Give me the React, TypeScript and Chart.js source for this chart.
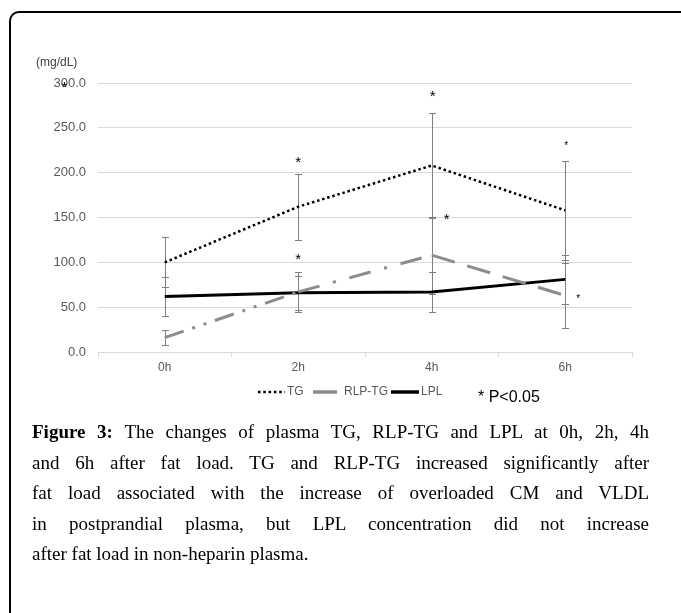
import { useEffect, useRef } from "react";
import { Chart, registerables } from "chart.js";

Chart.register(...registerables);

// ---------- data ----------
const categories = ["0h", "2h", "4h", "6h"];
const tgValues = [100, 162, 208, 158];
const rlpValues = [16, 67, 108, 63];
const lplValues = [62, 66, 67, 81];
const tgErr = [28, 37, 58, 55];
const rlpErr = [8, 22, 43, 36];
const lplErr = [22, 19, 22, 27];
const yTicks = [0, 50, 100, 150, 200, 250, 300];
const legendLabels = ["TG", "RLP-TG", "LPL"];
const unitLabel = "(mg/dL)";
const pNote = "* P<0.05";
// significance marks: category index and value where the asterisk sits
const sigIndex = [1, 1, 2, 2, 3, 3];
const sigValue = [214, 106, 288, 151, 232, 61];

// ---------- styles ----------
const sigStyle = [
  { size: 15, dx: 0 },
  { size: 15, dx: 0 },
  { size: 15, dx: 1 },
  { size: 15, dx: 15 },
  { size: 10, dx: 1 },
  { size: 10, dx: 13 },
];
const AXIS_FONT = "'Liberation Sans', Arial, sans-serif";
const GRAY_TEXT = "#595959";
const GRID = "#d9d9d9";
const RLP_COLOR = "#8c8c8c";
const rlpDashes = [
  [20, 9, 3, 9, 3, 9],
  [22, 14, 3, 14],
  [24, 13],
];
const Y_FONT_SIZE = 13;

const overlay = {
  id: "overlay",
  beforeDatasetsDraw(chart: any) {
    const { ctx, scales } = chart;
    const x = scales.x;
    const y = scales.y;
    ctx.save();
    ctx.strokeStyle = "#7f7f7f";
    ctx.lineWidth = 1;
    const series: [number[], number[]][] = [
      [tgValues, tgErr],
      [rlpValues, rlpErr],
      [lplValues, lplErr],
    ];
    series.forEach(([vals, errs]) => {
      vals.forEach((v, i) => {
        const px = Math.round(x.getPixelForValue(i)) + 0.5;
        const top = Math.round(y.getPixelForValue(v + errs[i])) + 0.5;
        const bot = Math.round(y.getPixelForValue(v - errs[i])) + 0.5;
        ctx.beginPath();
        ctx.moveTo(px, top);
        ctx.lineTo(px, bot);
        ctx.moveTo(px - 3.5, top);
        ctx.lineTo(px + 3.5, top);
        ctx.moveTo(px - 3.5, bot);
        ctx.lineTo(px + 3.5, bot);
        ctx.stroke();
      });
    });
    ctx.restore();
  },
  afterDatasetsDraw(chart: any) {
    const { ctx, scales, chartArea } = chart;
    const x = scales.x;
    const y = scales.y;
    ctx.save();
    // asterisks
    ctx.fillStyle = "#000";
    ctx.textAlign = "center";
    ctx.textBaseline = "middle";
    sigIndex.forEach((ci, k) => {
      const st = sigStyle[k];
      ctx.font = `${st.size}px ${AXIS_FONT}`;
      const px = x.getPixelForValue(ci) + st.dx;
      const py = y.getPixelForValue(sigValue[k]) + st.size * 0.2;
      ctx.fillText("*", px, py);
    });
    // stray asterisk over the top tick label
    ctx.font = `${Y_FONT_SIZE}px ${AXIS_FONT}`;
    const labelRight = chartArea.left - 12;
    const topLabel = yTicks[yTicks.length - 1].toFixed(1);
    const w = ctx.measureText(topLabel).width;
    const w0 = ctx.measureText(topLabel.slice(0, 1)).width;
    const w1 = ctx.measureText(topLabel.slice(1, 2)).width;
    ctx.font = `15px ${AXIS_FONT}`;
    ctx.fillText("*", labelRight - w + w0 + w1 / 2, y.getPixelForValue(yTicks[yTicks.length - 1]) + 5);

    // unit label
    ctx.font = `12px ${AXIS_FONT}`;
    ctx.fillStyle = "#404040";
    ctx.textAlign = "left";
    ctx.fillText(unitLabel, chartArea.left - 62, chartArea.top - 20);

    // legend
    const ly = chartArea.bottom + 40;
    const items = [
      { sx: 160, ex: 187, tx: 189, color: "#000", width: 2.5, dash: [2.5, 2.8] },
      { sx: 215, ex: 239, tx: 246, color: RLP_COLOR, width: 3.5, dash: [] },
      { sx: 293, ex: 321, tx: 323, color: "#000", width: 3.5, dash: [] },
    ];
    ctx.font = `12px ${AXIS_FONT}`;
    items.forEach((it, i) => {
      ctx.beginPath();
      ctx.strokeStyle = it.color;
      ctx.lineWidth = it.width;
      ctx.setLineDash(it.dash);
      ctx.moveTo(chartArea.left + it.sx, ly);
      ctx.lineTo(chartArea.left + it.ex, ly);
      ctx.stroke();
      ctx.setLineDash([]);
      ctx.fillStyle = GRAY_TEXT;
      ctx.fillText(legendLabels[i], chartArea.left + it.tx, ly);
    });
    // P note
    ctx.font = `16px ${AXIS_FONT}`;
    ctx.fillStyle = "#000";
    ctx.fillText(pNote, chartArea.left + 380, ly + 6);
    ctx.restore();
  },
};

export default function App() {
  const ref = useRef<HTMLCanvasElement | null>(null);

  useEffect(() => {
    if (!ref.current) return;
    const chart = new Chart(ref.current, {
      type: "line",
      data: {
        labels: categories,
        datasets: [
          {
            label: legendLabels[0],
            data: tgValues,
            borderColor: "#000",
            borderWidth: 2.5,
            borderDash: [2.5, 2.8],
            pointRadius: 0,
            tension: 0,
            fill: false,
          },
          {
            label: legendLabels[1],
            data: rlpValues,
            borderColor: RLP_COLOR,
            borderWidth: 3,
            pointRadius: 0,
            tension: 0,
            fill: false,
            segment: {
              borderDash: (c: any) => rlpDashes[c.p0DataIndex] || [],
            },
          },
          {
            label: legendLabels[2],
            data: lplValues,
            borderColor: "#000",
            borderWidth: 3,
            pointRadius: 0,
            tension: 0,
            fill: false,
          },
        ],
      },
      options: {
        animation: false,
        responsive: false,
        events: [],
        layout: { padding: { left: 0, right: 49, top: 83, bottom: 0 } },
        plugins: {
          legend: { display: false },
          tooltip: { enabled: false },
          title: { display: false },
        },
        scales: {
          x: {
            type: "category",
            offset: true,
            grid: {
              display: true,
              drawOnChartArea: false,
              drawTicks: true,
              tickLength: 5,
              color: GRID,
              offset: true,
            },
            border: { display: true, color: GRID },
            ticks: {
              color: GRAY_TEXT,
              font: { family: AXIS_FONT, size: 12 },
              padding: 3,
            },
            afterFit: (s: any) => {
              s.height = 68;
            },
          },
          y: {
            min: 0,
            max: 300,
            afterBuildTicks: (s: any) => {
              s.ticks = yTicks.map((v) => ({ value: v }));
            },
            grid: { color: GRID, drawTicks: false },
            border: { display: false },
            ticks: {
              color: GRAY_TEXT,
              font: { family: AXIS_FONT, size: Y_FONT_SIZE },
              padding: 12,
              callback: (v: any) => Number(v).toFixed(1),
            },
            afterFit: (s: any) => {
              s.width = 98;
            },
          },
        },
      },
      plugins: [overlay],
    });
    return () => chart.destroy();
  }, []);

  const lines = [
    "The changes of plasma TG, RLP-TG and LPL at 0h, 2h, 4h",
    "and 6h after fat load. TG and RLP-TG increased significantly after",
    "fat load associated with the increase of overloaded CM and VLDL",
    "in postprandial plasma, but LPL concentration did not increase",
    "after fat load in non-heparin plasma.",
  ];

  return (
    <>
      <div
        style={{
          position: "absolute",
          left: 9,
          top: 11,
          width: 672,
          height: 602,
          boxSizing: "border-box",
          borderLeft: "2px solid #000",
          borderTop: "2px solid #000",
          borderTopLeftRadius: 10,
        }}
      />
      <canvas
        ref={ref}
        width={681}
        height={420}
        style={{ position: "absolute", left: 0, top: 0, width: 681, height: 420 }}
      />
      <div
        style={{
          position: "absolute",
          left: 32,
          top: 417,
          width: 617,
          fontFamily: "'Liberation Serif', 'Times New Roman', serif",
          fontSize: 19,
          lineHeight: "30.5px",
          color: "#000",
        }}
      >
        {lines.map((t, i) => (
          <div
            key={i}
            style={{
              whiteSpace: "nowrap",
              textAlign: "justify",
              textAlignLast: i < lines.length - 1 ? "justify" : "left",
            }}
          >
            {i === 0 ? <b>Figure 3: </b> : null}
            {t}
          </div>
        ))}
      </div>
    </>
  );
}
